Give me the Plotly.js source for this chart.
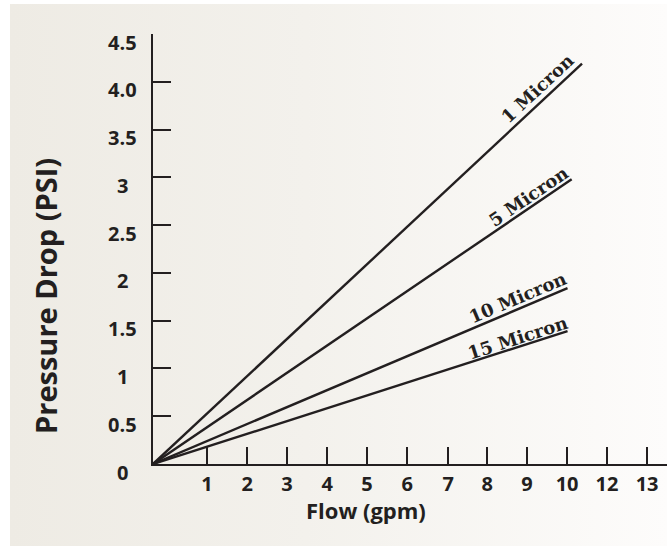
<!DOCTYPE html>
<html>
<head>
<meta charset="utf-8">
<script src="https://cdn.plot.ly/plotly-3.0.1.min.js"></script>
<style>
  html, body { margin: 0; padding: 0; background: #ffffff; }
  #wrap { position: relative; width: 667px; height: 546px; overflow: hidden; }
  #panel { position: absolute; left: 10px; top: 4px; width: 657px; height: 542px;
           background: linear-gradient(to right, #eeebe4 0%, #f3f1ec 45%, #fdfcfb 100%); }
  #chart { position: absolute; left: 0; top: 0; width: 667px; height: 546px; }
</style>
</head>
<body>
<div id="wrap">
  <div id="panel"></div>
  <div id="chart"></div>
</div>
<script>
// ---- data ----
const seriesNames = ["1 Micron", "5 Micron", "10 Micron", "15 Micron"];
const flowStart = [0, 0, 0, 0];
const flowEnd = [10.35, 10.1, 10.0, 10.0];        // gpm at end of each line
const pressureStart = [0, 0, 0, 0];
const pressureEnd = [4.19, 2.98, 1.84, 1.39];     // PSI at end of each line

const xTickVals = [1.3, 2.27, 3.23, 4.2, 5.16, 6.13, 7.12, 8.06, 9.02, 9.99, 10.95, 11.92];
const xTickText = ["1", "2", "3", "4", "5", "6", "7", "8", "9", "10", "12", "13"];
const yTickVals = [0, 0.5, 1, 1.5, 2, 2.5, 3, 3.5, 4, 4.5];
const yTickText = ["0", "0.5", "1", "1.5", "2", "2.5", "3", "3.5", "4.0", "4.5"];

// ---- layout / style constants ----
const W = 667, H = 546;
const M = { l: 153, r: 0, t: 34, b: 82 };
const xRange = [0, 12.4], yRange = [0, 4.5];
const plotW = W - M.l - M.r, plotH = H - M.t - M.b;
const pxPerX = plotW / (xRange[1] - xRange[0]);
const pxPerY = plotH / (yRange[1] - yRange[0]);
const ink = "#231f20";
const sans = "Open Sans, Noto Sans, sans-serif";
const labelAlong = [0.915, 0.91, 0.89, 0.888];   // fraction along each line for its label
const labelOffset = [12, 10, 10.5, 8.5];         // px perpendicular offset above line

const traces = seriesNames.map((name, i) => ({
  type: "scatter", mode: "lines", name: name,
  x: [flowStart[i], flowEnd[i]],
  y: [pressureStart[i], pressureEnd[i]],
  line: { color: ink, width: 2.4 },
  hoverinfo: "skip", showlegend: false
}));

const annotations = [];
seriesNames.forEach((name, i) => {
  const dxPx = (flowEnd[i] - flowStart[i]) * pxPerX;
  const dyPx = (pressureEnd[i] - pressureStart[i]) * pxPerY;
  const th = Math.atan2(dyPx, dxPx);
  const f = labelAlong[i], off = labelOffset[i];
  annotations.push({
    xref: "x", yref: "y",
    x: flowStart[i] + f * (flowEnd[i] - flowStart[i]),
    y: pressureStart[i] + f * (pressureEnd[i] - pressureStart[i]),
    xshift: -Math.sin(th) * off, yshift: Math.cos(th) * off,
    text: name, showarrow: false, textangle: -th * 180 / Math.PI,
    xanchor: "center", yanchor: "middle",
    font: { family: "DejaVu Serif, serif", size: 18, color: ink, weight: 700 }
  });
});
yTickVals.forEach((v, i) => {
  annotations.push({
    xref: "paper", yref: "y", x: 0, y: v, xshift: -31, yshift: -8,
    text: yTickText[i], showarrow: false, xanchor: "center", yanchor: "middle",
    font: { family: sans, size: 20, color: ink, weight: 700 }
  });
});
annotations.push({
  xref: "paper", yref: "paper", x: 0, y: (464 - 296) / plotH, xshift: -108,
  text: "Pressure Drop (PSI)", showarrow: false, textangle: -90,
  xanchor: "center", yanchor: "middle",
  font: { family: sans, size: 29, color: ink, weight: 700 }
});
annotations.push({
  xref: "paper", yref: "paper", x: (366 - M.l) / plotW, y: 0, yshift: -46,
  text: "Flow (gpm)", showarrow: false, xanchor: "center", yanchor: "middle",
  font: { family: sans, size: 22, color: ink, weight: 700 }
});

const layout = {
  width: W, height: H,
  margin: { l: M.l, r: M.r, t: M.t, b: M.b, pad: 0 },
  paper_bgcolor: "rgba(0,0,0,0)", plot_bgcolor: "rgba(0,0,0,0)",
  showlegend: false,
  xaxis: {
    range: xRange, showgrid: false, zeroline: false,
    showline: true, linecolor: ink, linewidth: 2,
    ticks: "inside", ticklen: 17, tickwidth: 2, tickcolor: ink,
    tickmode: "array", tickvals: xTickVals, ticktext: xTickText,
    ticklabelstandoff: 1,
    tickfont: { family: sans, size: 20, color: ink, weight: 700 }
  },
  yaxis: {
    range: yRange, showgrid: false, zeroline: false,
    showline: true, linecolor: ink, linewidth: 2,
    ticks: "inside", ticklen: 18, tickwidth: 2, tickcolor: ink,
    tickmode: "array", tickvals: yTickVals, showticklabels: false
  },
  annotations: annotations
};

Plotly.newPlot("chart", traces, layout, { displayModeBar: false, staticPlot: true });
</script>
</body>
</html>
